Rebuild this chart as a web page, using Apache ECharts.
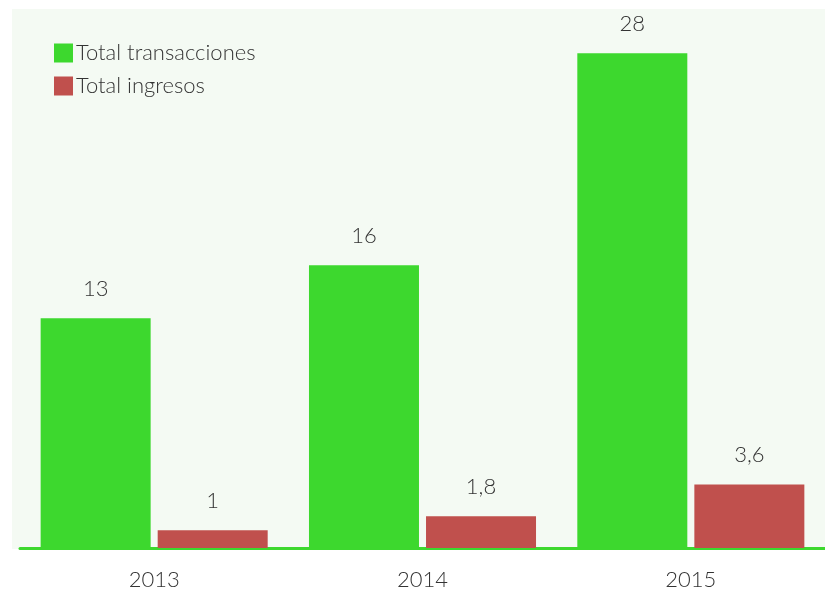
<!DOCTYPE html>
<html>
<head>
<meta charset="utf-8">
<script src="https://cdn.jsdelivr.net/npm/echarts@6/dist/echarts.min.js"></script>
<style>
    html, body { margin: 0; padding: 0; background: #ffffff; }
    #chart { width: 825px; height: 591px; }
</style>
</head>
<body>
<div id="chart"></div>
<script>
'use strict';

var years = ['2013', '2014', '2015'];
var transacciones = [13, 16, 28];
var ingresos = [1, 1.8, 3.6];
var seriesNames = ['Total transacciones', 'Total ingresos'];

var textFont = 'Lato';

//número con coma decimal
var comma = function (p) {
    return String(p.value).replace('.', ',');
};

var chart = echarts.init(document.getElementById('chart'));

var labelStyle = {
    show: true,
    position: 'top',
    distance: 18,
    formatter: comma,
    fontFamily: textFont,
    fontWeight: 300,
    fontSize: 22,
    color: '#333333'
};

var option = {
    animation: false,
    backgroundColor: '#ffffff',
    color: ['#3dd82e', '#c0504d'],
    graphic: [{
        type: 'rect',
        z: -10,
        silent: true,
        shape: { x: 12, y: 9, width: 813, height: 540 },
        style: { fill: '#f4faf3' }
    }],
    legend: {
        orient: 'vertical',
        left: 54,
        top: 42,
        padding: 0,
        itemWidth: 19,
        itemHeight: 19,
        itemGap: 11,
        icon: 'rect',
        data: seriesNames,
        textStyle: {
            fontFamily: textFont,
            fontWeight: 300,
            fontSize: 22,
            color: '#333333',
            padding: [0, 0, 0, -2]
        }
    },
    grid: {
        left: 20,
        right: -3,
        top: 9,
        bottom: 42
    },
    xAxis: {
        type: 'category',
        data: years,
        axisLine: { lineStyle: { color: '#3dd82e', width: 3 } },
        axisTick: { show: false },
        axisLabel: {
            margin: 21,
            fontFamily: textFont,
            fontWeight: 300,
            fontSize: 22,
            color: '#333333'
        }
    },
    yAxis: {
        type: 'value',
        min: 0,
        max: 30.5,
        show: false,
        splitLine: { show: false }
    },
    series: [
        {
            name: seriesNames[0],
            type: 'bar',
            data: transacciones,
            barWidth: 110,
            barGap: '6.4%',
            label: labelStyle
        },
        {
            name: seriesNames[1],
            type: 'bar',
            data: ingresos,
            barWidth: 110,
            label: labelStyle
        }
    ]
};

chart.setOption(option);
</script>
</body>
</html>
